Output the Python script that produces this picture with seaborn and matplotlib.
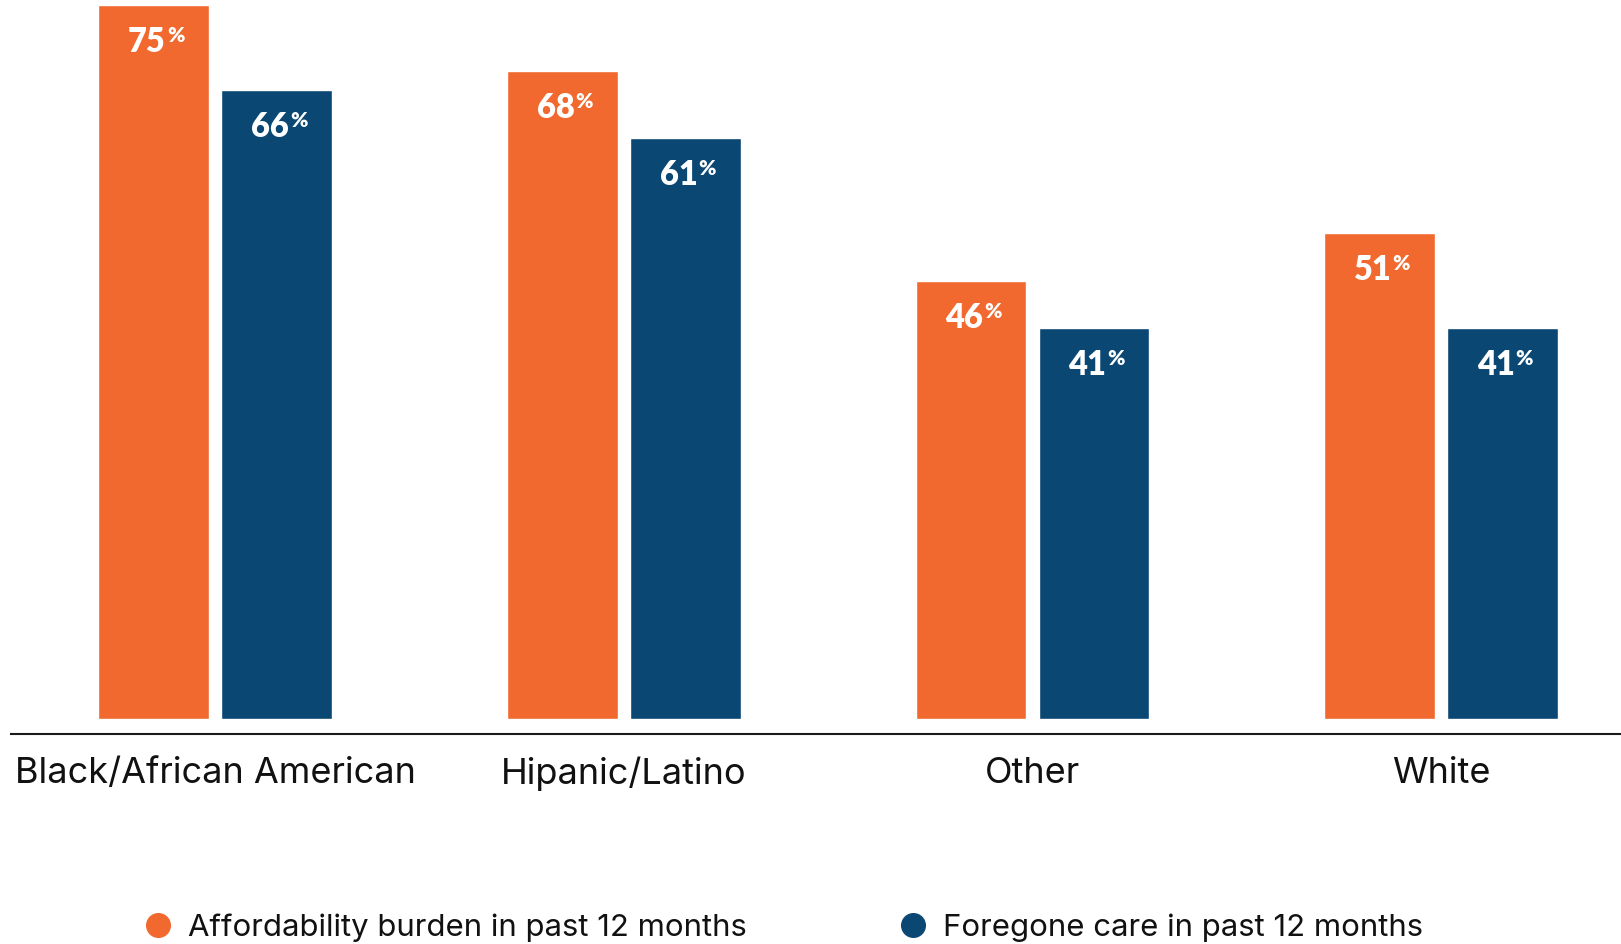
import matplotlib
matplotlib.use("Agg")
import matplotlib.pyplot as plt
from matplotlib.lines import Line2D
import pandas as pd
import seaborn as sns

# Share of adults by race/ethnicity
groups = ["Black/African American", "Hipanic/Latino", "Other", "White"]
affordability = [75, 68, 46, 51]
foregone = [66, 61, 41, 41]
series_names = ["Affordability burden in past 12 months",
                "Foregone care in past 12 months"]

ORANGE = "#F1692E"
BLUE = "#0A4873"

df = pd.DataFrame({
    "group": groups * 2,
    "pct": affordability + foregone,
    "measure": [series_names[0]] * len(groups) + [series_names[1]] * len(groups),
})

sns.set_theme(style="white")
plt.rcParams["font.family"] = ["Inter", "DejaVu Sans"]

fig = plt.figure(figsize=(16.21, 9.44), dpi=100)
ax = fig.add_axes([0.0068, 0.2225, 0.9932, 0.7775])

sns.barplot(data=df, x="group", y="pct", hue="measure", order=groups,
            hue_order=series_names, palette=[ORANGE, BLUE], saturation=1,
            width=0.602, gap=0.1, legend=False, ax=ax)

ax.set_xlim(-0.5, 3.44)
ax.set_ylim(-1.6, 75.5)

# value labels: bold number with a small raised percent sign
for container in ax.containers:
    for bar, val in zip(container, container.datavalues):
        x = bar.get_x() + bar.get_width() / 2
        top = bar.get_height()
        ax.annotate(f"{val:.0f}", (x, top), xytext=(12, -47),
                    textcoords="offset pixels", ha="right", va="baseline",
                    color="white", fontsize=23.5, fontweight="heavy",
                    family=["Lato", "DejaVu Sans"])
        ax.annotate("%", (x, top), xytext=(13, -21),
                    textcoords="offset pixels", ha="left", va="top",
                    color="white", fontsize=15, fontweight="heavy",
                    family=["Lato", "DejaVu Sans"])

ax.set_xlabel("")
ax.set_ylabel("")
ax.set_yticks([])
ax.tick_params(axis="x", length=0, pad=16.5, labelsize=26, labelcolor="#111111")
for side in ("left", "top", "right"):
    ax.spines[side].set_visible(False)
ax.spines["bottom"].set_color("#1a1a1a")
ax.spines["bottom"].set_linewidth(1.5)

handles = [Line2D([], [], marker="o", linestyle="", markersize=17,
                  markerfacecolor=c, markeredgecolor=c)
           for c in (ORANGE, BLUE)]
fig.legend(handles, series_names, loc="center", bbox_to_anchor=(0.483, 0.017),
           ncol=2, frameon=False, fontsize=22.4, handlelength=1.0,
           handletextpad=0.45, columnspacing=4.85, borderaxespad=0,
           labelcolor="#111111")

fig.savefig("out.png", dpi=100)
